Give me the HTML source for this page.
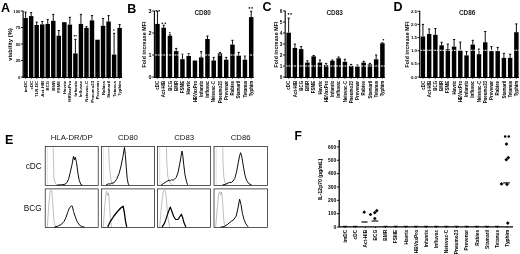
<!DOCTYPE html>
<html><head><meta charset="utf-8"><title>Figure</title>
<style>html,body{margin:0;padding:0;background:#fff;}svg{display:block}text{font-family:"Liberation Sans",sans-serif;}</style>
</head><body>
<svg width="520" height="254" viewBox="0 0 520 254">
<defs><filter id="bl" x="0" y="0" width="520" height="254" filterUnits="userSpaceOnUse"><feGaussianBlur stdDeviation="0.38"/></filter></defs>
<g filter="url(#bl)"><rect x="-5" y="-5" width="530" height="264" fill="#fff"/>
<path d="M23.1 10.7V77.5H122.16" stroke="#000" stroke-width="1.1" fill="none"/>
<path d="M20.900000000000002 11H23.1" stroke="#000" stroke-width="0.9"/>
<text x="20.30" y="12.51" font-size="4.2" font-weight="bold" text-anchor="end" fill="#000">100</text>
<path d="M20.900000000000002 27.5H23.1" stroke="#000" stroke-width="0.9"/>
<text x="20.30" y="29.01" font-size="4.2" font-weight="bold" text-anchor="end" fill="#000">75</text>
<path d="M20.900000000000002 44H23.1" stroke="#000" stroke-width="0.9"/>
<text x="20.30" y="45.51" font-size="4.2" font-weight="bold" text-anchor="end" fill="#000">50</text>
<path d="M20.900000000000002 60.5H23.1" stroke="#000" stroke-width="0.9"/>
<text x="20.30" y="62.01" font-size="4.2" font-weight="bold" text-anchor="end" fill="#000">25</text>
<path d="M20.900000000000002 77H23.1" stroke="#000" stroke-width="0.9"/>
<text x="20.30" y="78.51" font-size="4.2" font-weight="bold" text-anchor="end" fill="#000">0</text>
<path d="M25.62 18V12.1M24.52 12.1H26.73" stroke="#000" stroke-width="0.95" fill="none"/>
<rect x="23.40" y="18" width="4.45" height="59.50" fill="#000"/>
<path d="M25.62 77V78.8" stroke="#000" stroke-width="0.8"/>
<text transform="translate(27.17,80.90) rotate(-90)" font-size="4.3" font-weight="bold" text-anchor="end" fill="#000">imDC</text>
<path d="M31.16 16.1V12.6M30.05 12.6H32.26" stroke="#000" stroke-width="0.95" fill="none"/>
<rect x="28.93" y="16.1" width="4.45" height="61.40" fill="#000"/>
<path d="M31.16 77V78.8" stroke="#000" stroke-width="0.8"/>
<text transform="translate(32.70,80.90) rotate(-90)" font-size="4.3" font-weight="bold" text-anchor="end" fill="#000">cDC</text>
<path d="M36.69 25V22.2M35.59 22.2H37.79" stroke="#000" stroke-width="0.95" fill="none"/>
<rect x="34.46" y="25" width="4.45" height="52.50" fill="#000"/>
<path d="M36.69 77V78.8" stroke="#000" stroke-width="0.8"/>
<text transform="translate(38.23,80.90) rotate(-90)" font-size="4.3" font-weight="bold" text-anchor="end" fill="#000">TLR-DC</text>
<path d="M42.21 24.4V21.5M41.11 21.5H43.31" stroke="#000" stroke-width="0.95" fill="none"/>
<rect x="39.99" y="24.4" width="4.45" height="53.10" fill="#000"/>
<path d="M42.21 77V78.8" stroke="#000" stroke-width="0.8"/>
<text transform="translate(43.76,80.90) rotate(-90)" font-size="4.3" font-weight="bold" text-anchor="end" fill="#000">Act-HIB</text>
<path d="M47.74 23.9V19.6M46.64 19.6H48.84" stroke="#000" stroke-width="0.95" fill="none"/>
<rect x="45.52" y="23.9" width="4.45" height="53.60" fill="#000"/>
<path d="M47.74 77V78.8" stroke="#000" stroke-width="0.8"/>
<text transform="translate(49.29,80.90) rotate(-90)" font-size="4.3" font-weight="bold" text-anchor="end" fill="#000">BCG</text>
<path d="M53.27 20.8V14.4M52.17 14.4H54.38" stroke="#000" stroke-width="0.95" fill="none"/>
<rect x="51.05" y="20.8" width="4.45" height="56.70" fill="#000"/>
<path d="M53.27 77V78.8" stroke="#000" stroke-width="0.8"/>
<text transform="translate(54.82,80.90) rotate(-90)" font-size="4.3" font-weight="bold" text-anchor="end" fill="#000">BMR</text>
<path d="M58.80 35.7V30.5M57.70 30.5H59.91" stroke="#000" stroke-width="0.95" fill="none"/>
<rect x="56.58" y="35.7" width="4.45" height="41.80" fill="#000"/>
<path d="M58.80 77V78.8" stroke="#000" stroke-width="0.8"/>
<text transform="translate(60.35,80.90) rotate(-90)" font-size="4.3" font-weight="bold" text-anchor="end" fill="#000">FSME</text>
<rect x="62.11" y="22.2" width="4.45" height="55.30" fill="#000"/>
<path d="M64.33 77V78.8" stroke="#000" stroke-width="0.8"/>
<text transform="translate(65.88,80.90) rotate(-90)" font-size="4.3" font-weight="bold" text-anchor="end" fill="#000">Havrix</text>
<path d="M69.86 24.6V17.3M68.77 17.3H70.96" stroke="#000" stroke-width="0.95" fill="none"/>
<rect x="67.64" y="24.6" width="4.45" height="52.90" fill="#000"/>
<path d="M69.86 77V78.8" stroke="#000" stroke-width="0.8"/>
<text transform="translate(71.41,80.90) rotate(-90)" font-size="4.3" font-weight="bold" text-anchor="end" fill="#000">HBVaxPro</text>
<path d="M75.39 53.4V39.3M74.30 39.3H76.49" stroke="#000" stroke-width="0.95" fill="none"/>
<rect x="73.17" y="53.4" width="4.45" height="24.10" fill="#000"/>
<path d="M75.39 77V78.8" stroke="#000" stroke-width="0.8"/>
<text transform="translate(76.94,80.90) rotate(-90)" font-size="4.3" font-weight="bold" text-anchor="end" fill="#000">Infanrix</text>
<path d="M80.92 23.9V14.4M79.83 14.4H82.02" stroke="#000" stroke-width="0.95" fill="none"/>
<rect x="78.70" y="23.9" width="4.45" height="53.60" fill="#000"/>
<path d="M80.92 77V78.8" stroke="#000" stroke-width="0.8"/>
<text transform="translate(82.47,80.90) rotate(-90)" font-size="4.3" font-weight="bold" text-anchor="end" fill="#000">Influvac</text>
<path d="M86.45 27.9V26.7M85.36 26.7H87.55" stroke="#000" stroke-width="0.95" fill="none"/>
<rect x="84.23" y="27.9" width="4.45" height="49.60" fill="#000"/>
<path d="M86.45 77V78.8" stroke="#000" stroke-width="0.8"/>
<text transform="translate(88.00,80.90) rotate(-90)" font-size="4.3" font-weight="bold" text-anchor="end" fill="#000">Neisvac-C</text>
<path d="M91.98 20.4V15.6M90.88 15.6H93.08" stroke="#000" stroke-width="0.95" fill="none"/>
<rect x="89.76" y="20.4" width="4.45" height="57.10" fill="#000"/>
<path d="M91.98 77V78.8" stroke="#000" stroke-width="0.8"/>
<text transform="translate(93.53,80.90) rotate(-90)" font-size="4.3" font-weight="bold" text-anchor="end" fill="#000">Pneumo23</text>
<rect x="95.29" y="39.7" width="4.45" height="37.80" fill="#000"/>
<path d="M97.51 77V78.8" stroke="#000" stroke-width="0.8"/>
<text transform="translate(99.06,80.90) rotate(-90)" font-size="4.3" font-weight="bold" text-anchor="end" fill="#000">Prevenar</text>
<path d="M103.04 25.8V18.5M101.94 18.5H104.14" stroke="#000" stroke-width="0.95" fill="none"/>
<rect x="100.82" y="25.8" width="4.45" height="51.70" fill="#000"/>
<path d="M103.04 77V78.8" stroke="#000" stroke-width="0.8"/>
<text transform="translate(104.59,80.90) rotate(-90)" font-size="4.3" font-weight="bold" text-anchor="end" fill="#000">Rabies</text>
<path d="M108.57 21.5V15.6M107.47 15.6H109.67" stroke="#000" stroke-width="0.95" fill="none"/>
<rect x="106.35" y="21.5" width="4.45" height="56.00" fill="#000"/>
<path d="M108.57 77V78.8" stroke="#000" stroke-width="0.8"/>
<text transform="translate(110.12,80.90) rotate(-90)" font-size="4.3" font-weight="bold" text-anchor="end" fill="#000">Stamaril</text>
<path d="M114.10 54.6V33.3M113.00 33.3H115.20" stroke="#000" stroke-width="0.95" fill="none"/>
<rect x="111.88" y="54.6" width="4.45" height="22.90" fill="#000"/>
<path d="M114.10 77V78.8" stroke="#000" stroke-width="0.8"/>
<text transform="translate(115.65,80.90) rotate(-90)" font-size="4.3" font-weight="bold" text-anchor="end" fill="#000">Tetanus</text>
<path d="M119.63 27.9V24.6M118.53 24.6H120.73" stroke="#000" stroke-width="0.95" fill="none"/>
<rect x="117.41" y="27.9" width="4.45" height="49.60" fill="#000"/>
<path d="M119.63 77V78.8" stroke="#000" stroke-width="0.8"/>
<text transform="translate(121.18,80.90) rotate(-90)" font-size="4.3" font-weight="bold" text-anchor="end" fill="#000">Typhim</text>
<text transform="translate(11.7,60.75) rotate(-90)" font-size="5.8" font-weight="bold" textLength="32.5" lengthAdjust="spacing">viability (%)</text>
<text x="1.00" y="12.30" font-size="12.5" font-weight="bold" text-anchor="start" fill="#000">A</text>
<circle cx="74.3" cy="35.7" r="0.69" fill="#000"/>
<circle cx="76.0" cy="35.7" r="0.69" fill="#000"/>
<circle cx="113.9" cy="30" r="0.69" fill="#000"/>
<path d="M154.4 10.7V77.5H253.75" stroke="#000" stroke-width="1.1" fill="none"/>
<path d="M152.20000000000002 11H154.4" stroke="#000" stroke-width="0.9"/>
<text x="151.60" y="12.98" font-size="5.5" font-weight="bold" text-anchor="end" fill="#000">3</text>
<path d="M152.20000000000002 33H154.4" stroke="#000" stroke-width="0.9"/>
<text x="151.60" y="34.98" font-size="5.5" font-weight="bold" text-anchor="end" fill="#000">2</text>
<path d="M152.20000000000002 55H154.4" stroke="#000" stroke-width="0.9"/>
<text x="151.60" y="56.98" font-size="5.5" font-weight="bold" text-anchor="end" fill="#000">1</text>
<path d="M152.20000000000002 77H154.4" stroke="#000" stroke-width="0.9"/>
<text x="151.60" y="78.98" font-size="5.5" font-weight="bold" text-anchor="end" fill="#000">0</text>
<path d="M157.45 23.9V11.3M156.35 11.3H158.55" stroke="#000" stroke-width="0.95" fill="none"/>
<rect x="155.20" y="23.9" width="4.5" height="53.60" fill="#000"/>
<path d="M157.45 77V78.8" stroke="#000" stroke-width="0.8"/>
<text transform="translate(159.05,80.90) rotate(-90)" font-size="4.45" font-weight="bold" text-anchor="end" fill="#000">cDC</text>
<path d="M163.70 27.7V25.2M162.60 25.2H164.80" stroke="#000" stroke-width="0.95" fill="none"/>
<rect x="161.45" y="27.7" width="4.5" height="49.80" fill="#000"/>
<path d="M163.70 77V78.8" stroke="#000" stroke-width="0.8"/>
<text transform="translate(165.30,80.90) rotate(-90)" font-size="4.45" font-weight="bold" text-anchor="end" fill="#000">Act-HIB</text>
<path d="M169.95 35.8V34.8M168.85 34.8H171.05" stroke="#000" stroke-width="0.95" fill="none"/>
<rect x="167.70" y="35.8" width="4.5" height="41.70" fill="#000"/>
<path d="M169.95 77V78.8" stroke="#000" stroke-width="0.8"/>
<text transform="translate(171.55,80.90) rotate(-90)" font-size="4.45" font-weight="bold" text-anchor="end" fill="#000">BCG</text>
<path d="M176.20 51.1V48.4M175.10 48.4H177.30" stroke="#000" stroke-width="0.95" fill="none"/>
<rect x="173.95" y="51.1" width="4.5" height="26.40" fill="#000"/>
<path d="M176.20 77V78.8" stroke="#000" stroke-width="0.8"/>
<text transform="translate(177.80,80.90) rotate(-90)" font-size="4.45" font-weight="bold" text-anchor="end" fill="#000">BMR</text>
<path d="M182.45 59.2V54.2M181.35 54.2H183.55" stroke="#000" stroke-width="0.95" fill="none"/>
<rect x="180.20" y="59.2" width="4.5" height="18.30" fill="#000"/>
<path d="M182.45 77V78.8" stroke="#000" stroke-width="0.8"/>
<text transform="translate(184.05,80.90) rotate(-90)" font-size="4.45" font-weight="bold" text-anchor="end" fill="#000">FSME</text>
<path d="M188.70 55.9V53.7M187.60 53.7H189.80" stroke="#000" stroke-width="0.95" fill="none"/>
<rect x="186.45" y="55.9" width="4.5" height="21.60" fill="#000"/>
<path d="M188.70 77V78.8" stroke="#000" stroke-width="0.8"/>
<text transform="translate(190.30,80.90) rotate(-90)" font-size="4.45" font-weight="bold" text-anchor="end" fill="#000">Havrix</text>
<rect x="192.70" y="60.5" width="4.5" height="17.00" fill="#000"/>
<path d="M194.95 77V78.8" stroke="#000" stroke-width="0.8"/>
<text transform="translate(196.55,80.90) rotate(-90)" font-size="4.45" font-weight="bold" text-anchor="end" fill="#000">HBVaxPro</text>
<path d="M201.20 57.4V51.6M200.10 51.6H202.30" stroke="#000" stroke-width="0.95" fill="none"/>
<rect x="198.95" y="57.4" width="4.5" height="20.10" fill="#000"/>
<path d="M201.20 77V78.8" stroke="#000" stroke-width="0.8"/>
<text transform="translate(202.80,80.90) rotate(-90)" font-size="4.45" font-weight="bold" text-anchor="end" fill="#000">Infanrix</text>
<path d="M207.45 39V36M206.35 36H208.55" stroke="#000" stroke-width="0.95" fill="none"/>
<rect x="205.20" y="39" width="4.5" height="38.50" fill="#000"/>
<path d="M207.45 77V78.8" stroke="#000" stroke-width="0.8"/>
<text transform="translate(209.05,80.90) rotate(-90)" font-size="4.45" font-weight="bold" text-anchor="end" fill="#000">Influvac</text>
<path d="M213.70 60.5V57.4M212.60 57.4H214.80" stroke="#000" stroke-width="0.95" fill="none"/>
<rect x="211.45" y="60.5" width="4.5" height="17.00" fill="#000"/>
<path d="M213.70 77V78.8" stroke="#000" stroke-width="0.8"/>
<text transform="translate(215.30,80.90) rotate(-90)" font-size="4.45" font-weight="bold" text-anchor="end" fill="#000">Neisvac-C</text>
<path d="M219.95 53.4V52.4M218.85 52.4H221.05" stroke="#000" stroke-width="0.95" fill="none"/>
<rect x="217.70" y="53.4" width="4.5" height="24.10" fill="#000"/>
<path d="M219.95 77V78.8" stroke="#000" stroke-width="0.8"/>
<text transform="translate(221.55,80.90) rotate(-90)" font-size="4.45" font-weight="bold" text-anchor="end" fill="#000">Pneumo23</text>
<path d="M226.20 59.7V57.4M225.10 57.4H227.30" stroke="#000" stroke-width="0.95" fill="none"/>
<rect x="223.95" y="59.7" width="4.5" height="17.80" fill="#000"/>
<path d="M226.20 77V78.8" stroke="#000" stroke-width="0.8"/>
<text transform="translate(227.80,80.90) rotate(-90)" font-size="4.45" font-weight="bold" text-anchor="end" fill="#000">Prevenar</text>
<path d="M232.45 44.6V40.3M231.35 40.3H233.55" stroke="#000" stroke-width="0.95" fill="none"/>
<rect x="230.20" y="44.6" width="4.5" height="32.90" fill="#000"/>
<path d="M232.45 77V78.8" stroke="#000" stroke-width="0.8"/>
<text transform="translate(234.05,80.90) rotate(-90)" font-size="4.45" font-weight="bold" text-anchor="end" fill="#000">Rabies</text>
<path d="M238.70 55.4V52.4M237.60 52.4H239.80" stroke="#000" stroke-width="0.95" fill="none"/>
<rect x="236.45" y="55.4" width="4.5" height="22.10" fill="#000"/>
<path d="M238.70 77V78.8" stroke="#000" stroke-width="0.8"/>
<text transform="translate(240.30,80.90) rotate(-90)" font-size="4.45" font-weight="bold" text-anchor="end" fill="#000">Stamaril</text>
<path d="M244.95 59.7V55.9M243.85 55.9H246.05" stroke="#000" stroke-width="0.95" fill="none"/>
<rect x="242.70" y="59.7" width="4.5" height="17.80" fill="#000"/>
<path d="M244.95 77V78.8" stroke="#000" stroke-width="0.8"/>
<text transform="translate(246.55,80.90) rotate(-90)" font-size="4.45" font-weight="bold" text-anchor="end" fill="#000">Tetanus</text>
<path d="M251.20 17.1V11.3M250.10 11.3H252.30" stroke="#000" stroke-width="0.95" fill="none"/>
<rect x="248.95" y="17.1" width="4.5" height="60.40" fill="#000"/>
<path d="M251.20 77V78.8" stroke="#000" stroke-width="0.8"/>
<text transform="translate(252.80,80.90) rotate(-90)" font-size="4.45" font-weight="bold" text-anchor="end" fill="#000">Typhim</text>
<path d="M154.9 55H253.95" stroke="#fff" stroke-width="1.1" stroke-dasharray="1.9 0.9"/>
<text transform="translate(146.3,67.5) rotate(-90)" font-size="5.2" font-weight="bold" textLength="46" lengthAdjust="spacing">Fold increase MFI</text>
<text x="202.60" y="14.80" font-size="6.4" font-weight="bold" text-anchor="middle" fill="#1a1a1a">CD80</text>
<text x="127.30" y="12.50" font-size="12.5" font-weight="bold" text-anchor="start" fill="#000">B</text>
<circle cx="156.2" cy="10.7" r="0.81" fill="#000"/>
<circle cx="159.2" cy="10.7" r="0.81" fill="#000"/>
<circle cx="162.3" cy="23.2" r="0.81" fill="#000"/>
<circle cx="165.3" cy="23.2" r="0.81" fill="#000"/>
<circle cx="169.8" cy="32.8" r="0.81" fill="#000"/>
<circle cx="249.4" cy="7.9" r="0.81" fill="#000"/>
<circle cx="252.1" cy="7.9" r="0.81" fill="#000"/>
<path d="M285.2 10.7V77.5H384.95" stroke="#000" stroke-width="1.1" fill="none"/>
<path d="M283.0 11H285.2" stroke="#000" stroke-width="0.9"/>
<text x="282.40" y="12.69" font-size="4.7" font-weight="bold" text-anchor="end" fill="#000">6</text>
<path d="M283.0 22H285.2" stroke="#000" stroke-width="0.9"/>
<text x="282.40" y="23.69" font-size="4.7" font-weight="bold" text-anchor="end" fill="#000">5</text>
<path d="M283.0 33H285.2" stroke="#000" stroke-width="0.9"/>
<text x="282.40" y="34.69" font-size="4.7" font-weight="bold" text-anchor="end" fill="#000">4</text>
<path d="M283.0 44H285.2" stroke="#000" stroke-width="0.9"/>
<text x="282.40" y="45.69" font-size="4.7" font-weight="bold" text-anchor="end" fill="#000">3</text>
<path d="M283.0 55H285.2" stroke="#000" stroke-width="0.9"/>
<text x="282.40" y="56.69" font-size="4.7" font-weight="bold" text-anchor="end" fill="#000">2</text>
<path d="M283.0 66H285.2" stroke="#000" stroke-width="0.9"/>
<text x="282.40" y="67.69" font-size="4.7" font-weight="bold" text-anchor="end" fill="#000">1</text>
<path d="M283.0 77H285.2" stroke="#000" stroke-width="0.9"/>
<text x="282.40" y="78.69" font-size="4.7" font-weight="bold" text-anchor="end" fill="#000">0</text>
<path d="M288.65 32.7V18.1M287.55 18.1H289.75" stroke="#000" stroke-width="0.95" fill="none"/>
<rect x="286.40" y="32.7" width="4.5" height="44.80" fill="#000"/>
<path d="M288.65 77V78.8" stroke="#000" stroke-width="0.8"/>
<text transform="translate(290.25,80.90) rotate(-90)" font-size="4.45" font-weight="bold" text-anchor="end" fill="#000">cDC</text>
<path d="M294.90 47.9V44.1M293.80 44.1H296.00" stroke="#000" stroke-width="0.95" fill="none"/>
<rect x="292.65" y="47.9" width="4.5" height="29.60" fill="#000"/>
<path d="M294.90 77V78.8" stroke="#000" stroke-width="0.8"/>
<text transform="translate(296.50,80.90) rotate(-90)" font-size="4.45" font-weight="bold" text-anchor="end" fill="#000">Act-HIB</text>
<path d="M301.15 49.1V46.6M300.05 46.6H302.25" stroke="#000" stroke-width="0.95" fill="none"/>
<rect x="298.90" y="49.1" width="4.5" height="28.40" fill="#000"/>
<path d="M301.15 77V78.8" stroke="#000" stroke-width="0.8"/>
<text transform="translate(302.75,80.90) rotate(-90)" font-size="4.45" font-weight="bold" text-anchor="end" fill="#000">BCG</text>
<path d="M307.40 62.6V60.8M306.30 60.8H308.50" stroke="#000" stroke-width="0.95" fill="none"/>
<rect x="305.15" y="62.6" width="4.5" height="14.90" fill="#000"/>
<path d="M307.40 77V78.8" stroke="#000" stroke-width="0.8"/>
<text transform="translate(309.00,80.90) rotate(-90)" font-size="4.45" font-weight="bold" text-anchor="end" fill="#000">BMR</text>
<path d="M313.65 56.3V55.5M312.55 55.5H314.75" stroke="#000" stroke-width="0.95" fill="none"/>
<rect x="311.40" y="56.3" width="4.5" height="21.20" fill="#000"/>
<path d="M313.65 77V78.8" stroke="#000" stroke-width="0.8"/>
<text transform="translate(315.25,80.90) rotate(-90)" font-size="4.45" font-weight="bold" text-anchor="end" fill="#000">FSME</text>
<path d="M319.90 62.6V60M318.80 60H321.00" stroke="#000" stroke-width="0.95" fill="none"/>
<rect x="317.65" y="62.6" width="4.5" height="14.90" fill="#000"/>
<path d="M319.90 77V78.8" stroke="#000" stroke-width="0.8"/>
<text transform="translate(321.50,80.90) rotate(-90)" font-size="4.45" font-weight="bold" text-anchor="end" fill="#000">Havrix</text>
<path d="M326.15 65.1V63.4M325.05 63.4H327.25" stroke="#000" stroke-width="0.95" fill="none"/>
<rect x="323.90" y="65.1" width="4.5" height="12.40" fill="#000"/>
<path d="M326.15 77V78.8" stroke="#000" stroke-width="0.8"/>
<text transform="translate(327.75,80.90) rotate(-90)" font-size="4.45" font-weight="bold" text-anchor="end" fill="#000">HBVaxPro</text>
<path d="M332.40 60.8V60M331.30 60H333.50" stroke="#000" stroke-width="0.95" fill="none"/>
<rect x="330.15" y="60.8" width="4.5" height="16.70" fill="#000"/>
<path d="M332.40 77V78.8" stroke="#000" stroke-width="0.8"/>
<text transform="translate(334.00,80.90) rotate(-90)" font-size="4.45" font-weight="bold" text-anchor="end" fill="#000">Infanrix</text>
<path d="M338.65 58.3V57M337.55 57H339.75" stroke="#000" stroke-width="0.95" fill="none"/>
<rect x="336.40" y="58.3" width="4.5" height="19.20" fill="#000"/>
<path d="M338.65 77V78.8" stroke="#000" stroke-width="0.8"/>
<text transform="translate(340.25,80.90) rotate(-90)" font-size="4.45" font-weight="bold" text-anchor="end" fill="#000">Influvac</text>
<path d="M344.90 61.8V59.3M343.80 59.3H346.00" stroke="#000" stroke-width="0.95" fill="none"/>
<rect x="342.65" y="61.8" width="4.5" height="15.70" fill="#000"/>
<path d="M344.90 77V78.8" stroke="#000" stroke-width="0.8"/>
<text transform="translate(346.50,80.90) rotate(-90)" font-size="4.45" font-weight="bold" text-anchor="end" fill="#000">Neisvac-C</text>
<path d="M351.15 65.9V64.4M350.05 64.4H352.25" stroke="#000" stroke-width="0.95" fill="none"/>
<rect x="348.90" y="65.9" width="4.5" height="11.60" fill="#000"/>
<path d="M351.15 77V78.8" stroke="#000" stroke-width="0.8"/>
<text transform="translate(352.75,80.90) rotate(-90)" font-size="4.45" font-weight="bold" text-anchor="end" fill="#000">Pneumo23</text>
<path d="M357.40 66.4V65M356.30 65H358.50" stroke="#000" stroke-width="0.95" fill="none"/>
<rect x="355.15" y="66.4" width="4.5" height="11.10" fill="#000"/>
<path d="M357.40 77V78.8" stroke="#000" stroke-width="0.8"/>
<text transform="translate(359.00,80.90) rotate(-90)" font-size="4.45" font-weight="bold" text-anchor="end" fill="#000">Prevenar</text>
<path d="M363.65 62.6V61.3M362.55 61.3H364.75" stroke="#000" stroke-width="0.95" fill="none"/>
<rect x="361.40" y="62.6" width="4.5" height="14.90" fill="#000"/>
<path d="M363.65 77V78.8" stroke="#000" stroke-width="0.8"/>
<text transform="translate(365.25,80.90) rotate(-90)" font-size="4.45" font-weight="bold" text-anchor="end" fill="#000">Rabies</text>
<path d="M369.90 64.4V63.4M368.80 63.4H371.00" stroke="#000" stroke-width="0.95" fill="none"/>
<rect x="367.65" y="64.4" width="4.5" height="13.10" fill="#000"/>
<path d="M369.90 77V78.8" stroke="#000" stroke-width="0.8"/>
<text transform="translate(371.50,80.90) rotate(-90)" font-size="4.45" font-weight="bold" text-anchor="end" fill="#000">Stamaril</text>
<path d="M376.15 59.3V55M375.05 55H377.25" stroke="#000" stroke-width="0.95" fill="none"/>
<rect x="373.90" y="59.3" width="4.5" height="18.20" fill="#000"/>
<path d="M376.15 77V78.8" stroke="#000" stroke-width="0.8"/>
<text transform="translate(377.75,80.90) rotate(-90)" font-size="4.45" font-weight="bold" text-anchor="end" fill="#000">Tetanus</text>
<path d="M382.40 43.3V42.8M381.30 42.8H383.50" stroke="#000" stroke-width="0.95" fill="none"/>
<rect x="380.15" y="43.3" width="4.5" height="34.20" fill="#000"/>
<path d="M382.40 77V78.8" stroke="#000" stroke-width="0.8"/>
<text transform="translate(384.00,80.90) rotate(-90)" font-size="4.45" font-weight="bold" text-anchor="end" fill="#000">Typhim</text>
<path d="M285.7 66H385.15" stroke="#fff" stroke-width="1.1" stroke-dasharray="1.9 0.9"/>
<text transform="translate(278,67.5) rotate(-90)" font-size="5.2" font-weight="bold" textLength="46" lengthAdjust="spacing">Fold increase MFI</text>
<text x="334.60" y="14.80" font-size="6.4" font-weight="bold" text-anchor="middle" fill="#1a1a1a">CD83</text>
<text x="262.60" y="11.20" font-size="12.5" font-weight="bold" text-anchor="start" fill="#000">C</text>
<circle cx="288.5" cy="13.9" r="0.81" fill="#000"/>
<circle cx="291.1" cy="13.9" r="0.81" fill="#000"/>
<circle cx="383.4" cy="39.8" r="0.81" fill="#000"/>
<path d="M419.7 10.7V77.5H518.9" stroke="#000" stroke-width="1.1" fill="none"/>
<path d="M417.5 11.3H419.7" stroke="#000" stroke-width="0.9"/>
<text x="416.90" y="12.85" font-size="4.3" font-weight="bold" text-anchor="end" fill="#000">2.5</text>
<path d="M417.5 24.4H419.7" stroke="#000" stroke-width="0.9"/>
<text x="416.90" y="25.95" font-size="4.3" font-weight="bold" text-anchor="end" fill="#000">2.0</text>
<path d="M417.5 37.6H419.7" stroke="#000" stroke-width="0.9"/>
<text x="416.90" y="39.15" font-size="4.3" font-weight="bold" text-anchor="end" fill="#000">1.5</text>
<path d="M417.5 50.8H419.7" stroke="#000" stroke-width="0.9"/>
<text x="416.90" y="52.35" font-size="4.3" font-weight="bold" text-anchor="end" fill="#000">1.0</text>
<path d="M417.5 63.9H419.7" stroke="#000" stroke-width="0.9"/>
<text x="416.90" y="65.45" font-size="4.3" font-weight="bold" text-anchor="end" fill="#000">0.5</text>
<path d="M417.5 77H419.7" stroke="#000" stroke-width="0.9"/>
<text x="416.90" y="78.55" font-size="4.3" font-weight="bold" text-anchor="end" fill="#000">0.0</text>
<path d="M422.93 36.5V24.4M421.82 24.4H424.03" stroke="#000" stroke-width="0.95" fill="none"/>
<rect x="420.70" y="36.5" width="4.45" height="41.00" fill="#000"/>
<path d="M422.93 77V78.8" stroke="#000" stroke-width="0.8"/>
<text transform="translate(424.53,80.90) rotate(-90)" font-size="4.45" font-weight="bold" text-anchor="end" fill="#000">cDC</text>
<path d="M429.16 34V29M428.06 29H430.26" stroke="#000" stroke-width="0.95" fill="none"/>
<rect x="426.93" y="34" width="4.45" height="43.50" fill="#000"/>
<path d="M429.16 77V78.8" stroke="#000" stroke-width="0.8"/>
<text transform="translate(430.76,80.90) rotate(-90)" font-size="4.45" font-weight="bold" text-anchor="end" fill="#000">Act-HIB</text>
<path d="M435.38 34.8V28.5M434.28 28.5H436.49" stroke="#000" stroke-width="0.95" fill="none"/>
<rect x="433.16" y="34.8" width="4.45" height="42.70" fill="#000"/>
<path d="M435.38 77V78.8" stroke="#000" stroke-width="0.8"/>
<text transform="translate(436.99,80.90) rotate(-90)" font-size="4.45" font-weight="bold" text-anchor="end" fill="#000">BCG</text>
<path d="M441.62 45.3V42.3M440.51 42.3H442.72" stroke="#000" stroke-width="0.95" fill="none"/>
<rect x="439.39" y="45.3" width="4.45" height="32.20" fill="#000"/>
<path d="M441.62 77V78.8" stroke="#000" stroke-width="0.8"/>
<text transform="translate(443.22,80.90) rotate(-90)" font-size="4.45" font-weight="bold" text-anchor="end" fill="#000">BMR</text>
<path d="M447.85 49.1V44.1M446.75 44.1H448.95" stroke="#000" stroke-width="0.95" fill="none"/>
<rect x="445.62" y="49.1" width="4.45" height="28.40" fill="#000"/>
<path d="M447.85 77V78.8" stroke="#000" stroke-width="0.8"/>
<text transform="translate(449.45,80.90) rotate(-90)" font-size="4.45" font-weight="bold" text-anchor="end" fill="#000">FSME</text>
<path d="M454.07 46.6V39.5M452.97 39.5H455.18" stroke="#000" stroke-width="0.95" fill="none"/>
<rect x="451.85" y="46.6" width="4.45" height="30.90" fill="#000"/>
<path d="M454.07 77V78.8" stroke="#000" stroke-width="0.8"/>
<text transform="translate(455.68,80.90) rotate(-90)" font-size="4.45" font-weight="bold" text-anchor="end" fill="#000">Havrix</text>
<path d="M460.31 50.4V42.1M459.20 42.1H461.41" stroke="#000" stroke-width="0.95" fill="none"/>
<rect x="458.08" y="50.4" width="4.45" height="27.10" fill="#000"/>
<path d="M460.31 77V78.8" stroke="#000" stroke-width="0.8"/>
<text transform="translate(461.91,80.90) rotate(-90)" font-size="4.45" font-weight="bold" text-anchor="end" fill="#000">HBVaxPro</text>
<path d="M466.54 55.4V51.6M465.44 51.6H467.64" stroke="#000" stroke-width="0.95" fill="none"/>
<rect x="464.31" y="55.4" width="4.45" height="22.10" fill="#000"/>
<path d="M466.54 77V78.8" stroke="#000" stroke-width="0.8"/>
<text transform="translate(468.14,80.90) rotate(-90)" font-size="4.45" font-weight="bold" text-anchor="end" fill="#000">Infanrix</text>
<path d="M472.76 44.6V40.3M471.66 40.3H473.87" stroke="#000" stroke-width="0.95" fill="none"/>
<rect x="470.54" y="44.6" width="4.45" height="32.90" fill="#000"/>
<path d="M472.76 77V78.8" stroke="#000" stroke-width="0.8"/>
<text transform="translate(474.37,80.90) rotate(-90)" font-size="4.45" font-weight="bold" text-anchor="end" fill="#000">Influvac</text>
<path d="M479.00 54.2V49.1M477.89 49.1H480.10" stroke="#000" stroke-width="0.95" fill="none"/>
<rect x="476.77" y="54.2" width="4.45" height="23.30" fill="#000"/>
<path d="M479.00 77V78.8" stroke="#000" stroke-width="0.8"/>
<text transform="translate(480.60,80.90) rotate(-90)" font-size="4.45" font-weight="bold" text-anchor="end" fill="#000">Neisvac-C</text>
<path d="M485.23 42.3V31.5M484.12 31.5H486.33" stroke="#000" stroke-width="0.95" fill="none"/>
<rect x="483.00" y="42.3" width="4.45" height="35.20" fill="#000"/>
<path d="M485.23 77V78.8" stroke="#000" stroke-width="0.8"/>
<text transform="translate(486.83,80.90) rotate(-90)" font-size="4.45" font-weight="bold" text-anchor="end" fill="#000">Pneumo23</text>
<path d="M491.46 51.1V46.6M490.36 46.6H492.56" stroke="#000" stroke-width="0.95" fill="none"/>
<rect x="489.23" y="51.1" width="4.45" height="26.40" fill="#000"/>
<path d="M491.46 77V78.8" stroke="#000" stroke-width="0.8"/>
<text transform="translate(493.06,80.90) rotate(-90)" font-size="4.45" font-weight="bold" text-anchor="end" fill="#000">Prevenar</text>
<path d="M497.69 51.1V47.4M496.58 47.4H498.79" stroke="#000" stroke-width="0.95" fill="none"/>
<rect x="495.46" y="51.1" width="4.45" height="26.40" fill="#000"/>
<path d="M497.69 77V78.8" stroke="#000" stroke-width="0.8"/>
<text transform="translate(499.29,80.90) rotate(-90)" font-size="4.45" font-weight="bold" text-anchor="end" fill="#000">Rabies</text>
<path d="M503.92 57.9V53.4M502.81 53.4H505.02" stroke="#000" stroke-width="0.95" fill="none"/>
<rect x="501.69" y="57.9" width="4.45" height="19.60" fill="#000"/>
<path d="M503.92 77V78.8" stroke="#000" stroke-width="0.8"/>
<text transform="translate(505.52,80.90) rotate(-90)" font-size="4.45" font-weight="bold" text-anchor="end" fill="#000">Stamaril</text>
<path d="M510.14 57.9V54.2M509.04 54.2H511.25" stroke="#000" stroke-width="0.95" fill="none"/>
<rect x="507.92" y="57.9" width="4.45" height="19.60" fill="#000"/>
<path d="M510.14 77V78.8" stroke="#000" stroke-width="0.8"/>
<text transform="translate(511.75,80.90) rotate(-90)" font-size="4.45" font-weight="bold" text-anchor="end" fill="#000">Tetanus</text>
<path d="M516.38 32.2V23.9M515.27 23.9H517.48" stroke="#000" stroke-width="0.95" fill="none"/>
<rect x="514.15" y="32.2" width="4.45" height="45.30" fill="#000"/>
<path d="M516.38 77V78.8" stroke="#000" stroke-width="0.8"/>
<text transform="translate(517.98,80.90) rotate(-90)" font-size="4.45" font-weight="bold" text-anchor="end" fill="#000">Typhim</text>
<path d="M420.2 50.3H519.1" stroke="#fff" stroke-width="1.1" stroke-dasharray="1.9 0.9"/>
<text transform="translate(409,67.5) rotate(-90)" font-size="5.2" font-weight="bold" textLength="46" lengthAdjust="spacing">Fold increase MFI</text>
<text x="467.10" y="14.80" font-size="6.4" font-weight="bold" text-anchor="middle" fill="#1a1a1a">CD86</text>
<text x="393.60" y="11.20" font-size="12.5" font-weight="bold" text-anchor="start" fill="#000">D</text>
<text x="5.00" y="144.00" font-size="12.5" font-weight="bold" text-anchor="start" fill="#000">E</text>
<text x="71.70" y="139.70" font-size="7.8" font-weight="normal" text-anchor="middle" fill="#111">HLA-DR/DP</text>
<text x="127.95" y="139.70" font-size="7.8" font-weight="normal" text-anchor="middle" fill="#111">CD80</text>
<text x="184.10" y="139.70" font-size="7.8" font-weight="normal" text-anchor="middle" fill="#111">CD83</text>
<text x="240.70" y="139.70" font-size="7.8" font-weight="normal" text-anchor="middle" fill="#111">CD86</text>
<text x="41.60" y="169.05" font-size="8.2" font-weight="normal" text-anchor="end" fill="#111">cDC</text>
<text x="41.60" y="211.30" font-size="8.2" font-weight="normal" text-anchor="end" fill="#111">BCG</text>
<path d="M47.3 185.1 L47.3 147.4" stroke="#c8c8c8" stroke-width="0.5" fill="none" stroke-linejoin="round"/>
<path d="M53.2 147.4 L53.5 164.2 L54.0 178.4 L55.3 183.4 L57.0 184.9" stroke="#8c8c8c" stroke-width="0.55" fill="none" stroke-linejoin="round"/>
<path d="M57.0 185.1 L61.5 184.8 L65.0 184.2 L66.8 182.8 L68.5 179.3 L70.3 172.2 L72.1 164.2 L73.5 156.3 L74.4 159.8 L75.3 157.2 L76.5 162.5 L77.9 173.1 L79.2 180.2 L80.9 184.6 L82.4 185.1" stroke="#000" stroke-width="0.95" fill="none" stroke-linejoin="round"/>
<path d="M103.3 185.1 L103.3 147.4" stroke="#c8c8c8" stroke-width="0.5" fill="none" stroke-linejoin="round"/>
<path d="M108.6 147.4 L109.3 164.2 L110.7 178.4 L111.8 182.8 L113.0 184.9" stroke="#8c8c8c" stroke-width="0.55" fill="none" stroke-linejoin="round"/>
<path d="M106.0 185.1 L108.6 183.7 L110.0 184.2 L111.3 183.4 L113.9 182.8 L116.6 179.3 L119.2 173.1 L121.0 166.0 L122.8 157.2 L124.5 147.4 L125.4 155.4 L126.3 167.8 L127.2 178.4 L128.4 184.6 L129.5 185.3" stroke="#000" stroke-width="0.95" fill="none" stroke-linejoin="round"/>
<path d="M159.7 185.1 L159.7 147.4" stroke="#c8c8c8" stroke-width="0.5" fill="none" stroke-linejoin="round"/>
<path d="M166.4 147.4 L166.9 164.2 L167.8 176.6 L169.9 182.8 L172.6 184.9" stroke="#8c8c8c" stroke-width="0.55" fill="none" stroke-linejoin="round"/>
<path d="M161.1 185.1 L163.7 183.4 L166.4 181.6 L169.0 180.2 L170.5 180.7 L171.7 179.6 L173.1 180.2 L174.4 179.3 L176.1 177.5 L177.9 173.1 L179.7 164.2 L180.9 157.2 L182.0 151.0 L182.8 155.4 L183.7 164.2 L185.0 174.9 L186.4 181.1 L187.6 184.8" stroke="#000" stroke-width="0.95" fill="none" stroke-linejoin="round"/>
<path d="M216.2 185.1 L216.2 147.4" stroke="#c8c8c8" stroke-width="0.5" fill="none" stroke-linejoin="round"/>
<path d="M222.7 147.4 L223.1 164.2 L223.8 176.6 L225.0 182.8 L227.7 184.9" stroke="#8c8c8c" stroke-width="0.55" fill="none" stroke-linejoin="round"/>
<path d="M222.4 185.1 L225.9 184.1 L229.5 182.3 L231.2 182.6 L233.0 181.1 L234.8 178.4 L236.5 172.2 L238.3 162.5 L239.7 155.4 L240.6 152.7 L241.9 157.2 L243.3 166.0 L244.9 174.9 L246.6 180.5 L248.9 183.7 L251.6 184.9" stroke="#000" stroke-width="0.95" fill="none" stroke-linejoin="round"/>
<path d="M47.3 226.9 L48.7 206.2 L50.0 192.1 L50.8 190.0 L51.7 191.2 L52.6 200.9 L53.9 220.4 L55.3 226.9" stroke="#8c8c8c" stroke-width="0.55" fill="none" stroke-linejoin="round"/>
<path d="M54.4 227.1 L57.9 226.1 L61.5 224.3 L64.1 221.3 L65.9 217.7 L67.7 212.4 L69.4 208.0 L71.2 205.9 L72.4 206.2 L73.5 211.5 L75.3 216.9 L77.0 221.3 L79.2 224.8 L81.8 226.6 L84.5 227.1" stroke="#000" stroke-width="0.95" fill="none" stroke-linejoin="round"/>
<path d="M103.3 226.9 L104.7 206.2 L106.0 193.0 L106.8 191.2 L107.7 195.6 L108.6 193.0 L109.5 204.5 L110.4 218.6 L111.5 226.9" stroke="#8c8c8c" stroke-width="0.55" fill="none" stroke-linejoin="round"/>
<path d="M107.7 227.1 L110.4 221.3 L113.9 216.0 L117.5 211.5 L121.0 207.7 L123.1 206.2 L124.2 211.5 L125.4 220.4 L126.7 226.9" stroke="#000" stroke-width="1.3" fill="none" stroke-linejoin="round"/>
<path d="M159.7 226.9 L161.4 206.2 L163.2 192.1 L164.3 190.0 L165.5 191.2 L166.4 199.2 L167.8 216.9 L169.6 226.9" stroke="#8c8c8c" stroke-width="0.55" fill="none" stroke-linejoin="round"/>
<path d="M162.0 227.1 L164.6 223.1 L166.7 216.9 L168.5 211.5 L170.3 207.1 L171.7 210.7 L173.5 216.0 L175.6 219.5 L177.9 219.5 L179.7 216.9 L181.4 214.2 L182.7 217.7 L184.1 223.1 L185.9 227.1" stroke="#000" stroke-width="1.2" fill="none" stroke-linejoin="round"/>
<path d="M215.7 226.9 L217.4 206.2 L218.8 193.8 L219.7 191.7 L220.6 194.7 L221.7 192.1 L222.7 202.7 L223.8 220.4 L225.0 226.9" stroke="#8c8c8c" stroke-width="0.55" fill="none" stroke-linejoin="round"/>
<path d="M220.6 227.1 L224.2 226.6 L227.7 224.3 L231.2 221.3 L233.9 219.5 L236.2 216.0 L238.0 208.0 L239.6 199.2 L241.0 204.5 L242.4 213.3 L244.0 219.5 L245.9 223.9 L248.1 226.9" stroke="#000" stroke-width="0.95" fill="none" stroke-linejoin="round"/>
<rect x="45.2" y="146.5" width="53.0" height="38.900000000000006" fill="none" stroke="#111" stroke-width="0.7"/>
<rect x="45.2" y="188.9" width="53.0" height="38.599999999999994" fill="none" stroke="#111" stroke-width="0.7"/>
<rect x="101.5" y="146.5" width="52.900000000000006" height="38.900000000000006" fill="none" stroke="#111" stroke-width="0.7"/>
<rect x="101.5" y="188.9" width="52.900000000000006" height="38.599999999999994" fill="none" stroke="#111" stroke-width="0.7"/>
<rect x="157.6" y="146.5" width="53.0" height="38.900000000000006" fill="none" stroke="#111" stroke-width="0.7"/>
<rect x="157.6" y="188.9" width="53.0" height="38.599999999999994" fill="none" stroke="#111" stroke-width="0.7"/>
<rect x="214.0" y="146.5" width="53.39999999999998" height="38.900000000000006" fill="none" stroke="#111" stroke-width="0.7"/>
<rect x="214.0" y="188.9" width="53.39999999999998" height="38.599999999999994" fill="none" stroke="#111" stroke-width="0.7"/>
<text x="294.60" y="140.30" font-size="12" font-weight="bold" text-anchor="start" fill="#000">F</text>
<path d="M339.2 140V226.8H513" stroke="#000" stroke-width="1.25" fill="none"/>
<path d="M336.8 227.00H339.2" stroke="#000" stroke-width="0.9"/>
<text x="336.20" y="228.75" font-size="4.9" font-weight="bold" text-anchor="end" fill="#000">0</text>
<path d="M336.8 213.65H339.2" stroke="#000" stroke-width="0.9"/>
<text x="336.20" y="215.40" font-size="4.9" font-weight="bold" text-anchor="end" fill="#000">100</text>
<path d="M336.8 200.30H339.2" stroke="#000" stroke-width="0.9"/>
<text x="336.20" y="202.05" font-size="4.9" font-weight="bold" text-anchor="end" fill="#000">200</text>
<path d="M336.8 186.95H339.2" stroke="#000" stroke-width="0.9"/>
<text x="336.20" y="188.70" font-size="4.9" font-weight="bold" text-anchor="end" fill="#000">300</text>
<path d="M336.8 173.60H339.2" stroke="#000" stroke-width="0.9"/>
<text x="336.20" y="175.35" font-size="4.9" font-weight="bold" text-anchor="end" fill="#000">400</text>
<path d="M336.8 160.25H339.2" stroke="#000" stroke-width="0.9"/>
<text x="336.20" y="162.00" font-size="4.9" font-weight="bold" text-anchor="end" fill="#000">500</text>
<path d="M336.8 146.90H339.2" stroke="#000" stroke-width="0.9"/>
<text x="336.20" y="148.65" font-size="4.9" font-weight="bold" text-anchor="end" fill="#000">600</text>
<text transform="translate(322.4,200) rotate(-90)" font-size="5.6" font-weight="bold" textLength="41.4" lengthAdjust="spacing">IL-12p70 (pg/mL)</text>
<path d="M345.00 227V228.1" stroke="#000" stroke-width="0.8"/>
<text transform="translate(346.70,229.80) rotate(-90)" font-size="4.85" font-weight="bold" text-anchor="end" fill="#000">imDC</text>
<path d="M342.80 226.3H347.20" stroke="#000" stroke-width="0.9"/>
<path d="M355.14 227V228.1" stroke="#000" stroke-width="0.8"/>
<text transform="translate(356.84,229.80) rotate(-90)" font-size="4.85" font-weight="bold" text-anchor="end" fill="#000">cDC</text>
<path d="M352.94 226.3H357.34" stroke="#000" stroke-width="0.9"/>
<path d="M365.28 227V228.1" stroke="#000" stroke-width="0.8"/>
<text transform="translate(366.98,229.80) rotate(-90)" font-size="4.85" font-weight="bold" text-anchor="end" fill="#000">Act-HIB</text>
<path d="M375.42 227V228.1" stroke="#000" stroke-width="0.8"/>
<text transform="translate(377.12,229.80) rotate(-90)" font-size="4.85" font-weight="bold" text-anchor="end" fill="#000">BCG</text>
<path d="M385.56 227V228.1" stroke="#000" stroke-width="0.8"/>
<text transform="translate(387.26,229.80) rotate(-90)" font-size="4.85" font-weight="bold" text-anchor="end" fill="#000">BMR</text>
<path d="M383.36 226.3H387.76" stroke="#000" stroke-width="0.9"/>
<path d="M395.70 227V228.1" stroke="#000" stroke-width="0.8"/>
<text transform="translate(397.40,229.80) rotate(-90)" font-size="4.85" font-weight="bold" text-anchor="end" fill="#000">FSME</text>
<path d="M393.50 226.3H397.90" stroke="#000" stroke-width="0.9"/>
<path d="M405.84 227V228.1" stroke="#000" stroke-width="0.8"/>
<text transform="translate(407.54,229.80) rotate(-90)" font-size="4.85" font-weight="bold" text-anchor="end" fill="#000">Havrix</text>
<path d="M403.64 226.3H408.04" stroke="#000" stroke-width="0.9"/>
<path d="M415.98 227V228.1" stroke="#000" stroke-width="0.8"/>
<text transform="translate(417.68,229.80) rotate(-90)" font-size="4.85" font-weight="bold" text-anchor="end" fill="#000">HBVaxPro</text>
<path d="M413.78 226.3H418.18" stroke="#000" stroke-width="0.9"/>
<path d="M426.12 227V228.1" stroke="#000" stroke-width="0.8"/>
<text transform="translate(427.82,229.80) rotate(-90)" font-size="4.85" font-weight="bold" text-anchor="end" fill="#000">Infanrix</text>
<path d="M423.92 226.3H428.32" stroke="#000" stroke-width="0.9"/>
<path d="M436.26 227V228.1" stroke="#000" stroke-width="0.8"/>
<text transform="translate(437.96,229.80) rotate(-90)" font-size="4.85" font-weight="bold" text-anchor="end" fill="#000">Influvac</text>
<path d="M434.06 226.3H438.46" stroke="#000" stroke-width="0.9"/>
<path d="M446.40 227V228.1" stroke="#000" stroke-width="0.8"/>
<text transform="translate(448.10,229.80) rotate(-90)" font-size="4.85" font-weight="bold" text-anchor="end" fill="#000">Neisvac-C</text>
<path d="M444.20 226.3H448.60" stroke="#000" stroke-width="0.9"/>
<path d="M456.54 227V228.1" stroke="#000" stroke-width="0.8"/>
<text transform="translate(458.24,229.80) rotate(-90)" font-size="4.85" font-weight="bold" text-anchor="end" fill="#000">Pneumo23</text>
<path d="M454.34 226.3H458.74" stroke="#000" stroke-width="0.9"/>
<path d="M466.68 227V228.1" stroke="#000" stroke-width="0.8"/>
<text transform="translate(468.38,229.80) rotate(-90)" font-size="4.85" font-weight="bold" text-anchor="end" fill="#000">Prevenar</text>
<path d="M464.48 226.3H468.88" stroke="#000" stroke-width="0.9"/>
<path d="M476.82 227V228.1" stroke="#000" stroke-width="0.8"/>
<text transform="translate(478.52,229.80) rotate(-90)" font-size="4.85" font-weight="bold" text-anchor="end" fill="#000">Rabies</text>
<path d="M474.62 226.3H479.02" stroke="#000" stroke-width="0.9"/>
<path d="M486.96 227V228.1" stroke="#000" stroke-width="0.8"/>
<text transform="translate(488.66,229.80) rotate(-90)" font-size="4.85" font-weight="bold" text-anchor="end" fill="#000">Stamaril</text>
<path d="M484.76 226.3H489.16" stroke="#000" stroke-width="0.9"/>
<path d="M497.10 227V228.1" stroke="#000" stroke-width="0.8"/>
<text transform="translate(498.80,229.80) rotate(-90)" font-size="4.85" font-weight="bold" text-anchor="end" fill="#000">Tetanus</text>
<path d="M494.90 226.3H499.30" stroke="#000" stroke-width="0.9"/>
<path d="M507.24 227V228.1" stroke="#000" stroke-width="0.8"/>
<text transform="translate(508.94,229.80) rotate(-90)" font-size="4.85" font-weight="bold" text-anchor="end" fill="#000">Typhim</text>
<path d="M364.20 210.35L366.05 212.20L364.20 214.05L362.35 212.20Z" fill="#000"/>
<path d="M361.5 222H367.6" stroke="#000" stroke-width="1.15"/>
<path d="M370.50 212.65L372.35 214.50L370.50 216.35L368.65 214.50Z" fill="#000"/>
<path d="M374.80 210.85L376.65 212.70L374.80 214.55L372.95 212.70Z" fill="#000"/>
<path d="M376.80 208.85L378.65 210.70L376.80 212.55L374.95 210.70Z" fill="#000"/>
<path d="M374.80 216.65L376.65 218.50L374.80 220.35L372.95 218.50Z" fill="#000"/>
<path d="M371.6 221H378.2" stroke="#000" stroke-width="1.15"/>
<path d="M506.50 142.25L508.35 144.10L506.50 145.95L504.65 144.10Z" fill="#000"/>
<path d="M508.30 155.85L510.15 157.70L508.30 159.55L506.45 157.70Z" fill="#000"/>
<path d="M506.30 157.85L508.15 159.70L506.30 161.55L504.45 159.70Z" fill="#000"/>
<path d="M501.50 182.05L503.35 183.90L501.50 185.75L499.65 183.90Z" fill="#000"/>
<path d="M507.00 182.55L508.85 184.40L507.00 186.25L505.15 184.40Z" fill="#000"/>
<path d="M507.80 221.25L509.65 223.10L507.80 224.95L505.95 223.10Z" fill="#000"/>
<path d="M503.2 182.9H509.8" stroke="#000" stroke-width="1.15"/>
<circle cx="505.2" cy="136.4" r="1.27" fill="#000"/>
<circle cx="508.8" cy="136.4" r="1.27" fill="#000"/>
</g>
</svg>
</body></html>
